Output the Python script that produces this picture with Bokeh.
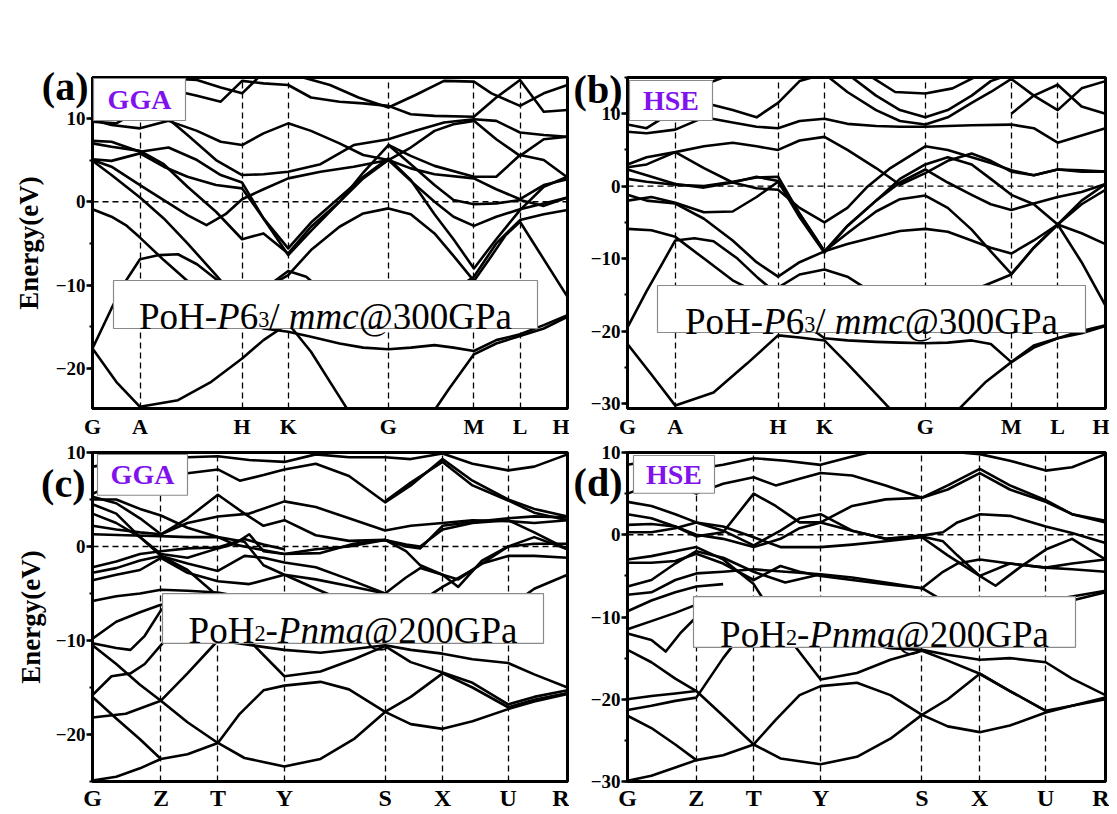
from bokeh.plotting import figure
from bokeh.layouts import gridplot
from bokeh.models import (Range1d, FixedTicker, SingleIntervalTicker, Span,
                          BoxAnnotation, Label, LinearAxis)
from bokeh.embed import file_html
from bokeh.resources import INLINE

# ---------------- data ----------------
HEX_K = [0, 10, 31.5, 41.2, 62.3, 80.3, 90, 100]
HEX_LABELS = ["G", "A", "H", "K", "G", "M", "L", "H"]
ORTH_K = [0, 14.4, 26.4, 40.4, 61.6, 73.7, 87.5, 100]
ORTH_LABELS = ["G", "Z", "T", "Y", "S", "X", "U", "R"]

BANDS_A = [
    [(0,-17.6),(5,-21.6),(10,-24.6),(18,-23.8),(25,-21.6),(31.5,-18.8),(36,-16.6),(41.2,-14.6),(46,-18.0),(51,-22.5),(56,-27.0),(62.3,-30.0),(69,-27.5),(75,-22.5),(80.3,-18.3),(85,-17.0),(90,-16.1),(95,-15.2),(100,-13.8)],
    [(0,-17.6),(4,-12.8),(7,-9.5),(10,-6.9),(14,-6.4),(18,-6.3),(22,-7.5),(26.5,-9.5),(31.5,-11.8),(36,-10.5),(41.2,-8.8),(46,-5.8),(52,-3.0),(57,-1.4),(62.3,-0.8),(67,-1.5),(72,-3.8),(76,-6.5),(80.3,-9.5),(84,-6.5),(87,-4.0),(90,-2.4),(94,-6.0),(100,-11.4)],
    [(0,-0.9),(4,-1.8),(7,-2.8),(10,-4.3),(15,-7.0),(20,-9.5),(26,-12.0),(31.5,-14.0),(36,-15.2),(41.2,-15.6),(46,-16.2),(52,-17.0),(57,-17.5),(62.3,-17.7),(67,-17.5),(72,-17.2),(76,-17.5),(80.3,-17.9),(85,-16.6),(90,-15.9),(95,-14.8),(100,-13.6)],
    [(0,4.9),(4,3.2),(10,0.5),(15,-2.0),(20,-5.0),(26,-8.8),(31.5,-12.5),(36,-10.5),(41.2,-8.3),(45,-9.0),(50,-11.5),(55,-13.0),(62.3,-13.8),(70,-13.0),(75,-11.0),(80.3,-9.0),(85,-5.0),(90,-2.2),(95,-1.5),(100,-1.0)],
    [(0,5.0),(4,4.2),(10,2.0),(15,0.2),(20,-1.6),(24,-2.8),(28,-1.5),(31.5,0.3),(36,1.5),(41.2,2.8),(48,3.6),(55,4.2),(62.3,5.0),(67,2.5),(72,0.0),(76,-1.8),(80.3,-2.9),(85,-1.8),(90,-0.9),(95,-0.2),(100,0.5)],
    [(0,5.1),(4,4.9),(10,5.8),(15,4.2),(20,3.0),(26,2.0),(31.5,1.6),(36,-2.0),(41.2,-5.6),(46,-2.5),(52,0.5),(57,3.0),(62.3,5.2),(67,2.6),(72,-1.5),(76,-4.5),(80.3,-8.0),(85,-4.5),(90,-1.0),(95,1.8),(100,3.0)],
    [(0,7.0),(4,6.6),(10,6.1),(15,4.5),(20,1.8),(26,-1.2),(31.5,-4.5),(36,-3.8),(41.2,-6.2),(46,-3.0),(52,0.0),(57,2.8),(62.3,5.0),(67,4.0),(72,3.3),(80.3,2.8),(85,1.5),(90,0.3),(95,2.0),(100,2.7)],
    [(0,7.3),(4,7.2),(10,6.0),(16,6.5),(22,5.0),(27,3.2),(31.5,2.3),(36,-2.0),(41.2,-6.4),(46,-3.5),(52,0.0),(57,3.5),(62.3,6.8),(67,5.5),(72,4.3),(80.3,3.0),(85,3.0),(90,5.6),(95,5.0),(100,2.9)],
    [(0,9.8),(4,9.2),(10,8.8),(16,9.7),(22,8.5),(27,7.2),(31.5,6.8),(36,8.2),(41.2,9.4),(46,8.5),(52,7.0),(57,5.6),(62.3,5.0),(67,6.5),(72,8.5),(76,9.3),(80.3,9.7),(85,7.5),(90,5.5),(95,7.5),(100,7.8)],
    [(0,12.5),(4,11.8),(10,12.3),(16,13.5),(22,12.7),(27,12.0),(31.5,14.5),(36,14.2),(41.2,14.0),(46,12.5),(52,12.0),(57,11.8),(62.3,11.5),(67,10.5),(72,10.3),(80.3,10.2),(85,12.5),(90,14.6),(95,10.8),(100,11.0)],
    [(36,16.0),(41.2,15.4),(50,14.0),(56,12.5),(62.3,11.3),(68,12.8),(74,14.5),(80.3,14.4),(84,13.0),(90,11.5),(95,13.0),(100,14.0)],
    [(0,9.6),(5,9.4),(10,11.0),(15,10.4),(20,8.0),(26,5.0),(31.5,3.2),(36,3.3),(41.2,3.6),(48,4.5),(55,6.8),(62.3,7.5),(68,8.5),(74,9.5),(80.3,9.9),(85,9.7),(90,8.3),(95,8.0),(100,7.8)],
    [(0,14.2),(5,13.4),(10,13.8),(16,14.8),(22,14.6),(27,13.7),(31.5,13.0),(36,15.5)],
    [(62.3,6.8),(67,4.5),(72,2.0),(76,0.2),(80.3,-0.3),(85,-0.2),(90,0.2),(95,-0.5),(100,0.5)],
]

BANDS_B = [
    [(0,-21.8),(5,-26.0),(10,-30.3),(18,-28.5),(25,-24.5),(31.5,-20.6),(36,-20.9),(41.2,-21.3),(46,-24.5),(51,-28.0),(56,-31.5),(62.3,-34.0),(69,-31.0),(75,-27.0),(80.3,-24.3),(85,-22.3),(90,-21.0),(95,-20.3),(100,-19.3)],
    [(0,-19.5),(4,-14.5),(7,-11.0),(10,-7.5),(14,-7.2),(18,-7.6),(23,-10.0),(27,-12.5),(31.5,-15.0),(36,-18.5),(41.2,-21.0),(46,-21.3),(52,-21.5),(57,-21.6),(62.3,-21.7),(67,-21.6),(72,-21.3),(76,-21.8),(80.3,-24.3),(85,-22.0),(90,-21.0),(95,-20.0),(100,-19.2)],
    [(0,-5.9),(5,-6.1),(10,-7.0),(16,-10.0),(22,-13.0),(28,-15.0),(31.5,-14.0),(36,-12.2),(41.2,-11.5),(46,-12.5),(52,-15.0),(62.3,-17.0),(70,-15.0),(80.3,-12.2),(85,-8.5),(90,-5.3),(95,-10.5),(100,-16.5)],
    [(0,-1.2),(4,-2.0),(10,-2.4),(16,-4.5),(22,-7.5),(27,-10.5),(31.5,-12.5),(36,-10.5),(41.2,-9.0),(46,-8.0),(52,-7.0),(57,-6.2),(62.3,-5.9),(67,-6.3),(72,-7.5),(76,-8.5),(80.3,-9.3),(85,-7.5),(90,-5.3),(95,-6.5),(100,-8.0)],
    [(0,-2.0),(5,-1.5),(10,-2.3),(16,-3.6),(22,-3.5),(27,-1.5),(31.5,0.6),(36,-3.8),(41.2,-9.0),(46,-6.5),(52,-3.5),(57,-1.8),(62.3,-1.3),(67,-3.0),(72,-6.0),(76,-9.0),(80.3,-12.1),(85,-8.5),(90,-5.3),(95,-2.5),(100,-0.5)],
    [(0,1.0),(4,0.6),(10,0.2),(16,0.0),(22,0.6),(27,1.2),(31.5,1.3),(36,-3.8),(41.2,-9.0),(46,-5.5),(52,-2.0),(57,0.5),(62.3,2.3),(67,0.5),(72,-1.2),(76,-2.5),(80.3,-3.3),(85,-2.4),(90,-1.5),(95,-0.8),(100,0.3)],
    [(0,2.3),(4,1.5),(10,0.3),(16,-0.2),(22,0.5),(27,1.3),(31.5,0.7),(36,-4.3),(41.2,-9.2),(46,-5.5),(52,-2.0),(57,1.0),(62.3,3.0),(67,4.0),(72,3.0),(76,1.0),(80.3,-1.2),(85,-2.5),(90,-5.3),(95,-2.0),(100,0.3)],
    [(0,2.6),(4,3.0),(10,4.7),(16,2.5),(22,0.5),(27,-0.3),(31.5,-0.5),(36,-3.0),(41.2,-5.0),(46,-3.0),(50,-0.2),(55,2.5),(62.3,5.5),(67,5.0),(72,4.0),(76,3.2),(80.3,2.2),(85,1.5),(90,2.3),(95,2.2),(100,2.0)],
    [(0,3.0),(4,4.0),(10,4.7),(16,5.5),(22,6.0),(27,5.5),(31.5,5.0),(36,6.3),(41.2,6.8),(46,5.0),(52,2.5),(57,0.2),(62.3,1.8),(67,3.5),(72,4.5),(76,3.5),(80.3,2.0),(85,1.5),(90,2.3),(95,2.0),(100,2.0)],
    [(0,7.5),(4,7.3),(10,7.8),(16,9.5),(22,8.8),(27,8.2),(31.5,8.0),(36,9.0),(41.2,9.3),(46,8.6),(52,8.3),(57,8.2),(62.3,8.2),(67,8.3),(72,8.4),(80.3,8.5),(85,8.0),(90,6.0),(95,7.0),(100,8.0)],
    [(0,8.5),(4,8.0),(10,10.5),(16,11.5),(22,10.5),(27,9.5),(31.5,11.5),(36,14.5),(41.2,15.5),(46,13.0),(52,10.5),(57,9.0),(62.3,8.5),(67,9.5),(72,11.5),(76,13.0),(80.3,14.8),(85,12.5),(90,10.5),(95,13.5),(100,14.5)],
    [(46,15.5),(52,12.5),(57,10.5),(62.3,9.5),(67,10.5),(72,12.5),(76,14.5),(80.3,15.5)],
    [(50,15.5),(56,13.0),(62.3,12.8),(68,13.5),(74,15.5)],
    [(80.3,10.0),(85,12.5),(90,14.0),(95,11.0),(100,10.0)],
    [(0,12.5),(5,11.5),(10,12.2),(16,14.0),(22,15.5)],
]

BANDS_C = [
    [(0,-24.9),(5,-24.5),(10,-23.6),(14.4,-22.6)],
    [(0,-16.0),(5,-18.3),(10,-20.5),(14.4,-22.6),(20,-22.1),(26.4,-20.9),(31,-17.8),(36,-15.3),(40.4,-14.8),(48,-14.4),(54,-15.2),(61.6,-17.6),(67,-16.0),(73.7,-13.5),(80,-15.0),(87.5,-17.1),(93,-16.3),(100,-15.6)],
    [(0,-10.5),(5,-12.5),(10,-14.7),(14.4,-16.4),(20,-18.7),(26.4,-20.9),(32,-22.5),(40.4,-23.4),(48,-22.6),(55,-20.5),(61.6,-17.6),(67,-18.9),(73.7,-19.4),(80,-18.6),(87.5,-17.3),(93,-16.5),(100,-15.7)],
    [(0,-18.2),(7,-17.8),(14.4,-16.4),(20,-13.5),(26.4,-10.0),(32,-10.4),(40.4,-11.0),(48,-11.3),(55,-10.9),(61.6,-10.5),(67,-11.0),(73.7,-11.4),(80,-12.0),(87.5,-12.4),(93,-13.6),(100,-15.0)],
    [(0,-15.8),(4,-13.8),(8,-13.5),(11,-12.5),(14.4,-10.5),(20,-7.5),(26.4,-5.0)],
    [(0,-2.8),(5,-2.3),(10,-1.5),(14.4,-1.0),(20,-2.5),(26.4,-5.3),(33,-10.0),(40.4,-13.8),(48,-13.3),(55,-12.0),(61.6,-10.6),(67,-12.3),(73.7,-13.4),(80,-14.5),(87.5,-16.8),(93,-16.0),(100,-15.3)],
    [(0,1.3),(7,1.2),(14.4,1.1),(20,1.0),(26.4,1.0),(30,0.2),(35,-0.3),(40.4,-0.8),(48,-0.7),(55,0.3),(61.6,0.7),(66,0.2),(69,0.0),(73.7,1.8),(80,2.5),(87.5,2.8),(93,1.5),(100,-0.3)],
    [(0,2.2),(5,1.8),(10,1.5),(14.4,1.3),(20,3.0),(26.4,5.5),(32,3.5),(36,2.2),(40.4,2.8),(47,1.2),(54,0.6),(61.6,0.7),(66,0.0),(69,-0.2),(73.7,2.2),(80,2.6),(87.5,3.0),(93,3.2),(100,3.1)],
    [(0,3.5),(5,2.5),(10,1.0),(14.4,-0.8),(20,-1.2),(26.4,-0.2),(30,0.3),(33,1.3),(36,-0.5),(40.4,-0.8),(47,-0.3),(54,0.0),(61.6,0.7),(66,-0.5),(69,-2.0),(73.7,-3.0),(77,-4.3),(82,-1.5),(87.5,0.0),(93,1.0),(100,-0.3)],
    [(0,4.5),(5,3.5),(10,1.0),(14.4,-1.0),(20,-1.8),(26.4,-2.6),(32,-1.0),(36,-1.2),(40.4,-1.7),(47,-2.2),(54,-3.5),(61.6,-5.0),(66,-3.3),(69,-2.3),(73.7,-3.0),(77,-3.5),(82,-1.8),(87.5,-1.0),(93,-1.0),(100,-1.2)],
    [(0,5.3),(5,4.6),(10,3.0),(14.4,1.3),(20,2.5),(26.4,3.2),(33,3.5),(40.4,4.8),(47,4.2),(54,3.0),(61.6,1.7),(67,2.2),(73.7,2.5),(80,2.8),(87.5,2.7),(93,2.5),(100,2.8)],
    [(0,5.0),(5,5.0),(10,4.0),(14.4,3.3),(20,2.0),(26.4,1.0),(32,0.5),(36,-2.0),(40.4,-3.0),(47,-3.5),(54,-4.2),(61.6,-5.0),(67,-6.5),(73.7,-4.3),(80,-2.5),(87.5,0.0),(93,0.3),(100,0.3)],
    [(0,5.6),(5,6.8),(10,8.0),(14.4,7.0),(20,7.8),(26.4,8.2),(31,7.0),(36,7.6),(40.4,8.2),(47,8.8),(54,7.5),(61.6,4.7),(67,6.5),(73.7,9.3),(80,7.0),(87.5,5.0),(93,4.0),(100,3.2)],
    [(0,8.5),(7,9.0),(14.4,9.3),(20,9.5),(26.4,9.6),(33,9.2),(40.4,9.0),(47,9.8),(54,9.5),(61.6,9.5),(67,9.3),(73.7,9.9),(80,8.8),(87.5,8.1),(93,8.5),(100,9.8)],
    [(61.6,4.8),(67,6.8),(73.7,9.0),(80,6.5),(87.5,4.9),(93,3.6),(100,2.8)],
    [(0,-3.6),(5,-3.0),(10,-2.5),(14.4,-1.2),(20,-2.8),(26.4,-3.7),(33,-4.0),(40.4,-3.0),(47,-4.5),(54,-6.0),(61.6,-7.5)],
    [(0,-5.8),(5,-5.3),(10,-5.0),(14.4,-4.6),(20,-4.7),(26.4,-4.9),(33,-5.5),(40,-6.5)],
    [(0,-9.8),(5,-8.0),(10,-7.0),(14.4,-6.2),(20,-6.0),(26,-6.5)],
    [(0,-10.3),(5,-10.8),(8,-11.0),(11,-9.5),(14.4,-6.8),(18,-5.5)],
    [(78,-8.5),(87.5,-6.5),(93,-4.5),(100,-3.0)],
    [(0,-2.2),(5,-1.6),(10,-0.8),(14.4,-0.5),(20,-0.2),(26.4,-0.1),(32,0.8),(36,0.2),(40.4,-0.3)],
]

BANDS_D = [
    [(0,-29.9),(5,-29.3),(10,-28.3),(14.4,-27.4)],
    [(0,-22.0),(5,-23.5),(10,-25.5),(14.4,-27.4),(20,-26.8),(26.4,-25.5),(31,-22.5),(36,-19.5),(40.4,-18.4),(48,-18.0),(55,-19.5),(61.6,-21.9),(67,-20.0),(73.7,-16.9),(80,-19.0),(87.5,-21.4),(93,-20.8),(100,-20.0)],
    [(0,-14.0),(5,-15.5),(10,-17.5),(14.4,-19.0),(20,-22.0),(26.4,-25.5),(32,-27.2),(40.4,-27.9),(48,-27.0),(55,-24.8),(61.6,-21.9),(67,-23.3),(73.7,-24.0),(80,-23.2),(87.5,-21.6),(93,-20.8),(100,-19.8)],
    [(0,-21.3),(5,-20.8),(10,-20.2),(14.4,-19.8),(20,-15.0),(26.4,-10.2),(33,-10.8),(40.4,-11.5),(48,-13.0),(55,-13.8),(61.6,-14.0),(67,-14.6),(73.7,-15.2),(80,-15.0),(87.5,-15.5),(93,-17.5),(100,-19.5)],
    [(0,-20.0),(5,-19.6),(10,-19.3),(14.4,-19.0)],
    [(0,-3.0),(5,-2.6),(10,-2.0),(14.4,-1.5),(20,-3.0),(26.4,-6.0),(33,-12.0),(40.4,-17.6),(48,-16.8),(55,-15.2),(61.6,-14.1),(67,-15.3),(73.7,-16.9),(80,-19.0),(87.5,-21.4)],
    [(0,1.2),(5,1.3),(10,1.0),(14.4,0.0),(20,-0.5),(26.4,-1.5),(32,-0.5),(36,0.8),(40.4,1.5),(47,0.5),(54,-0.5),(61.6,-0.2),(66,-0.8),(69,-2.5),(73.7,-5.0),(77,-6.2),(82,-4.0),(87.5,-1.8),(93,-0.5),(100,-3.0)],
    [(0,0.3),(5,0.3),(10,0.8),(14.4,1.5),(20,0.5),(26.4,-1.3),(32,0.5),(36,2.0),(40.4,2.5),(47,0.5),(54,-0.5),(61.6,-0.1),(66,0.3),(69,1.5),(73.7,2.5),(80,2.3),(87.5,1.0),(93,0.2),(100,-1.0)],
    [(0,2.5),(5,2.0),(10,1.0),(14.4,-0.2),(20,0.3),(26.4,5.0),(31,3.5),(36,1.5),(40.4,1.5),(47,3.5),(54,4.3),(61.6,4.5),(67,6.0),(73.7,8.0),(80,6.0),(87.5,4.2),(93,2.5),(100,1.5)],
    [(0,4.0),(5,3.5),(10,2.5),(14.4,1.5),(20,1.0),(26.4,-0.3),(32,-1.5),(40.4,-1.5),(47,-1.2),(54,-0.8),(61.6,-0.3),(67,-2.5),(73.7,-5.0),(80,-3.5),(87.5,-4.0),(93,-3.5),(100,-3.0)],
    [(0,-3.4),(5,-3.4),(10,-3.2),(14.4,-2.3),(20,-3.5),(26.4,-5.5),(32,-3.8),(36,-4.5),(40.4,-5.0),(47,-5.5),(54,-6.0),(61.6,-6.5),(66,-4.5),(69,-3.5),(73.7,-3.0),(80,-3.5),(87.5,-4.0),(93,-4.2),(100,-4.5)],
    [(0,-6.3),(5,-5.5),(10,-3.5),(14.4,-2.0),(20,-2.8),(26.4,-4.5),(33,-5.8),(40.4,-4.8),(47,-5.2),(54,-5.8),(61.6,-6.5),(66,-8.0),(70,-9.5)],
    [(0,-7.3),(5,-7.0),(10,-5.5),(14.4,-4.7),(20,-4.5),(26.4,-4.2),(33,-4.5),(40.4,-4.8)],
    [(0,-9.3),(5,-8.0),(10,-7.0),(14.4,-6.3),(20,-6.0)],
    [(0,-12.0),(5,-12.8),(8,-14.2),(11,-12.0),(14.4,-10.0),(18,-9.0)],
    [(0,-11.5),(5,-10.5),(10,-9.5),(14.4,-8.5),(18,-8.0)],
    [(0,5.0),(7,6.5),(14.4,5.0),(20,6.2),(26.4,7.0),(31,6.0),(36,6.8),(40.4,7.5),(47,7.2),(54,6.0),(61.6,4.5),(67,5.5),(73.7,7.5),(80,5.5),(87.5,4.0),(93,2.5),(100,1.7)],
    [(0,8.5),(10,9.5),(14.4,8.0),(20,8.5),(26.4,9.3),(33,9.0),(40.4,8.5),(47,9.5),(54,10.5)],
    [(60,10.5),(66,10.2),(73.7,9.8),(80,9.0),(87.5,7.8),(93,8.2),(100,9.8)],
    [(73.7,-13.5),(80,-11.5),(87.5,-9.5),(93,-8.0),(100,-7.0)],
    [(80,-10.0),(87.5,-8.0),(93,-7.5),(100,-6.8)],
]

FORMULA_HEX = [("PoH-", "normal", 1.0, 0), ("P", "italic", 1.0, 0), ("6", "normal", 1.0, 0),
               ("3", "normal", 0.6, -3), ("/ ", "normal", 1.0, 0), ("mmc", "italic", 1.0, 0),
               ("@300GPa", "normal", 1.0, 0)]
FORMULA_ORTH = [("PoH", "normal", 1.0, 0), ("2", "normal", 0.6, -3), ("-", "normal", 1.0, 0),
                ("Pnma", "italic", 1.0, 0), ("@200GPa", "normal", 1.0, 0)]

W_N = {'P': .556, 'o': .5, 'H': .722, '-': .333, '6': .5, '3': .5, '2': .5, '/': .278,
       '@': .921, '0': .5, 'G': .722, 'a': .444, ' ': .25}
W_I = {'P': .611, 'm': .722, 'c': .444, 'n': .5, 'a': .5, ' ': .25}

FONT = "Liberation Serif"
PURPLE = "#8112EE"


def make_panel(spec):
    L, R, T, B = spec["frame"]
    ylo, yhi = spec["yr"]
    bl, br, bt, bb = spec["borders"]
    W, H = R - L, B - T
    p = figure(width=bl + W + br, height=bt + H + bb,
               x_range=Range1d(0, 100), y_range=Range1d(ylo, yhi),
               output_backend="svg", toolbar_location=None,
               min_border_left=bl, min_border_right=br,
               min_border_top=bt, min_border_bottom=bb)
    p.background_fill_color = "white"
    p.border_fill_color = "white"
    p.outline_line_color = "black"
    p.outline_line_width = 3
    p.outline_line_alpha = 1.0

    def px(x):
        return (x - L) / W * 100.0

    def py(y):
        return yhi - (y - T) / H * (yhi - ylo)

    knots = spec["knots"]
    ticker = FixedTicker(ticks=knots, minor_ticks=[])
    p.xaxis.ticker = ticker
    p.xaxis.major_label_overrides = {float(k): lab for k, lab in zip(knots, spec["klabels"])}
    p.xaxis.major_tick_out = 0
    p.xaxis.major_tick_in = 0
    p.xaxis.minor_tick_out = 0
    p.xaxis.minor_tick_in = 0
    p.xaxis.axis_line_width = 3
    p.xaxis.major_label_standoff = spec["xstand"]
    p.xaxis.major_label_text_font = FONT
    p.xaxis.major_label_text_font_style = "bold"
    p.xaxis.major_label_text_font_size = spec["xfs"]
    p.xaxis.major_label_text_color = "black"

    p.yaxis.ticker = SingleIntervalTicker(interval=10, num_minor_ticks=2)
    p.yaxis.axis_line_width = 3
    p.yaxis.major_tick_out = 6
    p.yaxis.major_tick_in = 0
    p.yaxis.major_tick_line_width = 2.5
    p.yaxis.minor_tick_out = 3
    p.yaxis.minor_tick_in = 0
    p.yaxis.minor_tick_line_width = 2
    p.yaxis.major_label_standoff = 1
    p.yaxis.major_label_text_font = FONT
    p.yaxis.major_label_text_font_style = "bold"
    p.yaxis.major_label_text_font_size = "19px"
    p.yaxis.major_label_text_color = "black"

    # outer left axis: its single tick label is the panel letter; it also
    # carries the "Energy(eV)" title
    lx, ly = spec["letter_pos"]
    ly_data = py(ly)
    outer = LinearAxis(ticker=FixedTicker(ticks=[ly_data], minor_ticks=[]),
                       major_label_overrides={ly_data: spec["letter"]})
    outer.axis_line_color = None
    outer.major_tick_line_color = None
    outer.minor_tick_line_color = None
    outer.major_tick_out = 0
    outer.major_tick_in = 0
    outer.minor_tick_out = 0
    outer.minor_tick_in = 0
    outer.major_label_standoff = spec["letter_standoff"]
    outer.major_label_text_font = FONT
    outer.major_label_text_font_style = "bold"
    outer.major_label_text_font_size = "40px"
    outer.major_label_text_color = "black"
    if spec["ylabel"]:
        outer.axis_label = "Energy(eV)"
        outer.axis_label_text_font = FONT
        outer.axis_label_text_font_style = "bold"
        outer.axis_label_text_font_size = "27px"
        outer.axis_label_text_color = "black"
        outer.axis_label_standoff = spec["ylabel_standoff"]
    p.add_layout(outer, "left")

    p.ygrid.visible = False
    p.xgrid.ticker = ticker
    p.xgrid.grid_line_color = "black"
    p.xgrid.grid_line_dash = "6 4"
    p.xgrid.grid_line_width = 1.3
    p.add_layout(Span(location=0, dimension="width", line_color="black",
                      line_dash="6 4", line_width=1.3, level="underlay"))

    xs = [[pt[0] for pt in band] for band in spec["bands"]]
    ys = [[pt[1] for pt in band] for band in spec["bands"]]
    p.multi_line(xs, ys, line_color="black", line_width=2.6, line_join="round")

    mx0, mx1, my0, my1 = spec["mbox"]
    p.add_layout(BoxAnnotation(left=px(mx0), right=px(mx1), top=py(my0), bottom=py(my1),
                               fill_color="white", fill_alpha=1.0,
                               line_color="#8a8a8a", line_width=1.2, line_alpha=1.0))
    p.add_layout(Label(x=px((mx0 + mx1) / 2), y=py((my0 + my1) / 2), text=spec["method"],
                       text_font=FONT, text_font_style="bold", text_font_size="28px",
                       text_color=PURPLE, text_align="center", text_baseline="middle"))

    fx0, fx1, fy0, fy1 = spec["fbox"]
    p.add_layout(BoxAnnotation(left=px(fx0), right=px(fx1), top=py(fy0), bottom=py(fy1),
                               fill_color="white", fill_alpha=1.0,
                               line_color="#8a8a8a", line_width=1.2, line_alpha=1.0))
    fs = spec["ffs"]
    widths = []
    for txt, style, sc, dy in spec["formula"]:
        tab = W_I if style == "italic" else W_N
        widths.append(sum(tab.get(ch, 0.5) for ch in txt) * fs * sc)
    total = sum(widths)
    x_start = (fx0 + fx1) / 2 - total / 2
    base = (fy0 + fy1) / 2 + 0.33 * fs
    cum = 0.0
    for (txt, style, sc, dy), w in zip(spec["formula"], widths):
        p.add_layout(Label(x=px(x_start), y=py(base), x_offset=cum, y_offset=dy, text=txt,
                           text_font=FONT, text_font_style=style,
                           text_font_size=f"{fs * sc:.1f}px", text_color="black",
                           text_align="left", text_baseline="alphabetic"))
        cum += w
    return p


SPEC_A = dict(frame=(92, 567, 77, 408), yr=(-24.8, 14.9), borders=(92, 2, 77, 33),
              knots=HEX_K, klabels=HEX_LABELS, bands=BANDS_A, ylabel=True,
              xfs="22px", xstand=5, method="GGA", mbox=(93, 185, 78, 120),
              fbox=(113, 537, 280, 328), formula=FORMULA_HEX, ffs=37,
              letter="(a)", letter_pos=(65, 86), letter_standoff=-36, ylabel_standoff=-5)
SPEC_B = dict(frame=(627, 1105, 77, 408), yr=(-30.7, 15.0), borders=(58, 4, 77, 33),
              knots=HEX_K, klabels=HEX_LABELS, bands=BANDS_B, ylabel=False,
              xfs="22px", xstand=5, method="HSE", mbox=(629, 712, 80, 120),
              fbox=(657, 1085, 285, 332), formula=FORMULA_HEX, ffs=37,
              letter="(b)", letter_pos=(599, 89), letter_standoff=-35, ylabel_standoff=0)
SPEC_C = dict(frame=(92, 567, 452, 783), yr=(-25.0, 10.0), borders=(92, 2, 11, 30),
              knots=ORTH_K, klabels=ORTH_LABELS, bands=BANDS_C, ylabel=True,
              xfs="24px", xstand=3, method="GGA", mbox=(97, 187, 454, 495),
              fbox=(162, 543, 594, 644), formula=FORMULA_ORTH, ffs=37,
              letter="(c)", letter_pos=(62, 483), letter_standoff=-33, ylabel_standoff=-8)
SPEC_D = dict(frame=(627, 1105, 452, 783), yr=(-30.0, 10.0), borders=(58, 4, 11, 30),
              knots=ORTH_K, klabels=ORTH_LABELS, bands=BANDS_D, ylabel=False,
              xfs="24px", xstand=3, method="HSE", mbox=(633, 714, 455, 493),
              fbox=(693, 1075, 597, 648), formula=FORMULA_ORTH, ffs=37,
              letter="(d)", letter_pos=(599, 482), letter_standoff=-35, ylabel_standoff=0)

pa = make_panel(SPEC_A)
pb = make_panel(SPEC_B)
pc = make_panel(SPEC_C)
pd = make_panel(SPEC_D)

grid = gridplot([[pa, pb], [pc, pd]], toolbar_location=None)
open("out.html", "w").write(file_html(grid, INLINE))
